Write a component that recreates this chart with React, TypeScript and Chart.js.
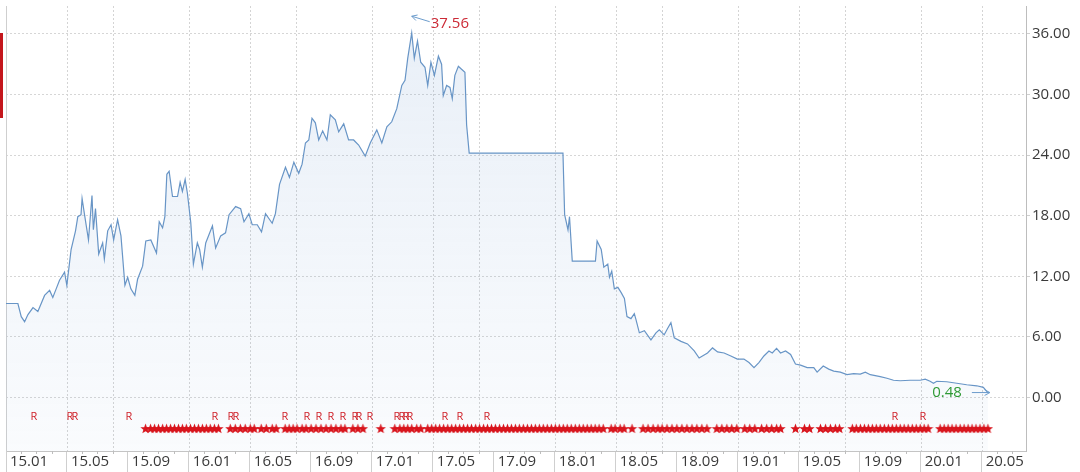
import React, { useEffect, useRef } from "react";
import { Chart, registerables } from "chart.js";

Chart.register(...registerables);

const FONT = "'Open Sans', 'Noto Sans', sans-serif";

// x = months since 2015.01, y = price
const pricePoints: [number, number][] = [
  [0, 9.3], [0.78, 9.3], [1.0, 8.0], [1.22, 7.5], [1.44, 8.2], [1.77, 8.9], [2.09, 8.5], [2.53, 10.1],
  [2.86, 10.6], [3.07, 9.9], [3.29, 10.75], [3.51, 11.6], [3.84, 12.4], [3.99, 11.1], [4.27, 14.65],
  [4.56, 16.5], [4.71, 17.9], [4.92, 18.1], [4.99, 19.7], [5.15, 18.1], [5.41, 15.6], [5.64, 20.0],
  [5.73, 16.6], [5.87, 18.7], [6.08, 14.2], [6.34, 15.3], [6.45, 13.7], [6.67, 16.5], [6.89, 17.1],
  [7.06, 15.6], [7.32, 17.6], [7.54, 16.0], [7.8, 11.1], [7.98, 11.9], [8.19, 10.75], [8.45, 10.1],
  [8.63, 11.7], [8.96, 13.0], [9.17, 15.5], [9.5, 15.6], [9.87, 14.3], [10.05, 17.4], [10.27, 16.8],
  [10.42, 17.9], [10.55, 22.1], [10.7, 22.4], [10.92, 19.9], [11.25, 19.9], [11.42, 21.3], [11.57, 20.4],
  [11.75, 21.6], [11.9, 20.2], [12.12, 17.3], [12.29, 13.2], [12.55, 15.3], [12.7, 14.65], [12.88, 12.9],
  [13.1, 15.3], [13.54, 17.0], [13.75, 14.8], [14.08, 16.0], [14.4, 16.3], [14.63, 18.1], [15.06, 18.9],
  [15.39, 18.7], [15.61, 17.4], [15.93, 18.2], [16.15, 17.1], [16.48, 17.1], [16.76, 16.4], [17.02, 18.2],
  [17.46, 17.25], [17.67, 18.2], [17.94, 21.1], [18.33, 22.8], [18.59, 21.8], [18.88, 23.3], [19.2, 22.2],
  [19.42, 23.1], [19.64, 25.2], [19.86, 25.5], [20.07, 27.65], [20.29, 27.2], [20.51, 25.5], [20.77, 26.4],
  [21.05, 25.5], [21.27, 28.0], [21.6, 27.5], [21.82, 26.3], [22.15, 27.1], [22.47, 25.5], [22.8, 25.5],
  [23.13, 25.0], [23.56, 23.9], [23.89, 25.2], [24.32, 26.5], [24.65, 25.2], [24.98, 26.8], [25.3, 27.3],
  [25.63, 28.6], [25.96, 30.9], [26.17, 31.4], [26.35, 33.6], [26.61, 36.1], [26.78, 33.6], [26.99, 35.3],
  [27.2, 33.2], [27.48, 32.7], [27.66, 30.9], [27.87, 33.2], [28.1, 31.9], [28.36, 33.8], [28.57, 33.0],
  [28.68, 29.9], [28.9, 30.9], [29.12, 30.7], [29.27, 29.6], [29.44, 31.9], [29.67, 32.8], [29.88, 32.5],
  [30.1, 32.2], [30.21, 27.0], [30.38, 24.2], [36.53, 24.2], [36.64, 18.1], [36.86, 16.6], [36.96, 17.9],
  [37.14, 13.5], [38.66, 13.5], [38.77, 15.5], [39.04, 14.65], [39.21, 12.9], [39.47, 13.2], [39.58, 11.9],
  [39.73, 12.5], [39.9, 10.75], [40.13, 10.9], [40.34, 10.4], [40.56, 9.8], [40.73, 8.0], [40.99, 7.8],
  [41.21, 8.3], [41.32, 7.7], [41.54, 6.4], [41.87, 6.6], [42.3, 5.7], [42.63, 6.4], [42.85, 6.7],
  [43.17, 6.2], [43.4, 6.85], [43.61, 7.4], [43.83, 5.9], [44.27, 5.55], [44.7, 5.3], [45.14, 4.6],
  [45.46, 3.9], [45.68, 4.1], [46.01, 4.4], [46.34, 4.9], [46.67, 4.5], [47.1, 4.4], [47.54, 4.1],
  [47.97, 3.8], [48.4, 3.8], [48.73, 3.45], [49.06, 2.95], [49.38, 3.45], [49.71, 4.1], [50.04, 4.6],
  [50.26, 4.4], [50.54, 4.85], [50.8, 4.4], [51.13, 4.6], [51.46, 4.25], [51.78, 3.3], [52.11, 3.2],
  [52.55, 2.95], [52.98, 2.95], [53.2, 2.5], [53.6, 3.1], [53.96, 2.8], [54.29, 2.6], [54.72, 2.5],
  [55.16, 2.25], [55.6, 2.35], [56.03, 2.3], [56.36, 2.5], [56.69, 2.25], [57.34, 2.05], [57.78, 1.9],
  [58.21, 1.7], [58.65, 1.65], [59.3, 1.7], [59.96, 1.7], [60.29, 1.8], [60.61, 1.6], [60.83, 1.4],
  [61.05, 1.6], [61.7, 1.55], [62.36, 1.4], [63.01, 1.25], [63.67, 1.15], [64.1, 1.0], [64.4, 0.48],
];

const xTickMonths = [0, 4, 8, 12, 16, 20, 24, 28, 32, 36, 40, 44, 48, 52, 56, 60, 64];
const xTickLabels = [
  "15.01", "15.05", "15.09", "16.01", "16.05", "16.09", "17.01", "17.05", "17.09",
  "18.01", "18.05", "18.09", "19.01", "19.05", "19.09", "20.01", "20.05",
];
const xGridMonths = [4, 7, 12, 16, 19, 24, 28, 31, 36, 40, 43, 48, 52, 55, 60, 64];
const yTickValues = [0, 6, 12, 18, 24, 30, 36];

const rMarkMonths = [
  1.83, 4.18, 4.51, 8.04, 13.73, 14.78, 15.1, 18.31, 19.75, 20.53, 21.32, 22.1, 22.88, 23.15,
  23.87, 25.63, 25.96, 26.22, 26.48, 28.77, 29.75, 31.58, 58.33, 60.15,
];

const starMarkMonths = [
  9.15, 9.48, 9.74, 10.0, 10.27, 10.53, 10.79, 11.05, 11.31, 11.57, 11.83, 12.1, 12.36, 12.62, 12.88,
  13.14, 13.4, 13.67, 13.93, 14.71, 15.04, 15.37, 15.69, 16.02, 16.28, 16.74, 17.07, 17.46, 17.72,
  18.31, 18.57, 18.83, 19.09, 19.42, 19.68, 20.01, 20.33, 20.66, 20.99, 21.32, 21.64, 21.97, 22.23,
  22.75, 23.08, 23.41, 24.58, 25.5, 25.83, 26.09, 26.35, 26.61, 26.94, 27.2, 27.66, 27.92, 28.18,
  28.44, 28.7, 28.97, 29.23, 29.49, 29.75, 30.01, 30.27, 30.53, 30.8, 31.06, 31.32, 31.58, 31.84,
  32.1, 32.37, 32.63, 32.89, 33.15, 33.41, 33.67, 33.93, 34.2, 34.46, 34.72, 34.98, 35.24, 35.5,
  35.77, 36.03, 36.29, 36.55, 36.81, 37.07, 37.34, 37.6, 37.86, 38.12, 38.38, 38.64, 38.9, 39.17,
  39.69, 39.95, 40.28, 40.54, 41.06, 41.78, 42.11, 42.44, 42.76, 43.03, 43.35, 43.68, 44.0, 44.33,
  44.66, 44.99, 45.31, 45.64, 45.97, 46.62, 46.95, 47.28, 47.6, 47.93, 48.45, 48.78, 49.11, 49.56,
  49.89, 50.22, 50.54, 50.8, 51.78, 52.37, 52.7, 53.42, 53.75, 54.07, 54.4, 54.66, 55.51, 55.77,
  56.04, 56.3, 56.56, 56.82, 57.08, 57.34, 57.61, 57.87, 58.13, 58.39, 58.65, 58.91, 59.17, 59.44,
  59.7, 59.96, 60.22, 60.48, 61.27, 61.53, 61.79, 62.05, 62.31, 62.58, 62.84, 63.1, 63.36, 63.62,
  63.88, 64.14, 64.4,
];

const highPrice = 37.56;
const highMonth = 26.61;
const lastPriceText = "0.48";

const R_ROW = -1.9;
const STAR_ROW = -3.08;

function makeStar(): HTMLCanvasElement {
  const c = document.createElement("canvas");
  c.width = 11;
  c.height = 11;
  const g = c.getContext("2d")!;
  g.fillStyle = "#d8141c";
  g.beginPath();
  for (let i = 0; i < 10; i++) {
    const r = i % 2 === 0 ? 5.4 : 2.3;
    const a = -Math.PI / 2 + (i * Math.PI) / 5;
    const px = 5.5 + r * Math.cos(a);
    const py = 6 + r * Math.sin(a);
    if (i === 0) g.moveTo(px, py);
    else g.lineTo(px, py);
  }
  g.closePath();
  g.fill();
  return c;
}

function drawArrow(ctx: CanvasRenderingContext2D, x1: number, y1: number, x2: number, y2: number) {
  const ang = Math.atan2(y2 - y1, x2 - x1);
  const hl = 6;
  ctx.beginPath();
  ctx.moveTo(x1, y1);
  ctx.lineTo(x2, y2);
  ctx.moveTo(x2 - hl * Math.cos(ang - 0.5), y2 - hl * Math.sin(ang - 0.5));
  ctx.lineTo(x2, y2);
  ctx.lineTo(x2 - hl * Math.cos(ang + 0.5), y2 - hl * Math.sin(ang + 0.5));
  ctx.stroke();
}

const decorPlugin = {
  id: "decor",
  beforeDatasetsDraw(chart: any) {
    const { ctx, chartArea: a, scales } = chart;
    const x = scales.x;
    ctx.save();
    ctx.lineWidth = 1;
    ctx.strokeStyle = "#d4d4d4";
    ctx.setLineDash([2, 2]);
    for (const m of xGridMonths) {
      const px = Math.round(x.getPixelForValue(m)) + 0.5;
      ctx.beginPath();
      ctx.moveTo(px, a.top);
      ctx.lineTo(px, a.bottom);
      ctx.stroke();
    }
    ctx.setLineDash([]);
    ctx.strokeStyle = "#cfcfcf";
    const lx = Math.round(a.left) + 0.5;
    ctx.beginPath();
    ctx.moveTo(lx, a.top);
    ctx.lineTo(lx, chart.height);
    ctx.stroke();
    ctx.restore();
  },
  afterDatasetsDraw(chart: any) {
    const { ctx } = chart;
    const meta = chart.getDatasetMeta(2);
    ctx.save();
    ctx.fillStyle = "#cf1f27";
    ctx.font = `11px ${FONT}`;
    ctx.textAlign = "center";
    ctx.textBaseline = "middle";
    for (const el of meta.data) {
      ctx.fillText("R", Math.round(el.x), Math.round(el.y));
    }
    ctx.restore();
  },
  afterDraw(chart: any) {
    const { ctx, chartArea: a, scales } = chart;
    const x = scales.x;
    const y = scales.y;
    ctx.save();
    // monthly minor ticks under the axis
    ctx.strokeStyle = "#bdbdbd";
    ctx.lineWidth = 1;
    for (let m = 1; m < 67; m++) {
      if (xTickMonths.includes(m)) continue;
      const px = Math.round(x.getPixelForValue(m)) + 0.5;
      ctx.beginPath();
      ctx.moveTo(px, a.bottom);
      ctx.lineTo(px, a.bottom + 3);
      ctx.stroke();
    }
    // high annotation
    const hx = x.getPixelForValue(highMonth);
    const hy = y.getPixelForValue(highPrice) - 2;
    ctx.strokeStyle = "#6c9ccc";
    ctx.lineWidth = 1;
    drawArrow(ctx, hx + 18, hy + 5.5, hx, hy);
    ctx.fillStyle = "#cc2a36";
    ctx.font = `15px ${FONT}`;
    ctx.textAlign = "left";
    ctx.textBaseline = "middle";
    ctx.fillText(highPrice.toFixed(2), hx + 19, hy + 8);
    // last annotation
    const last = pricePoints[pricePoints.length - 1];
    const tx = x.getPixelForValue(last[0]) + 2;
    const ty = y.getPixelForValue(last[1]);
    ctx.strokeStyle = "#6c9ccc";
    drawArrow(ctx, tx - 18, ty, tx, ty);
    ctx.fillStyle = "#2f9a35";
    ctx.textAlign = "right";
    ctx.fillText(lastPriceText, tx - 28, ty);
    ctx.restore();
  },
};

export default function App() {
  const ref = useRef<HTMLCanvasElement | null>(null);

  useEffect(() => {
    if (!ref.current) return;
    const starImg = makeStar();
    const chart = new Chart(ref.current, {
      type: "line",
      data: {
        datasets: [
          {
            data: pricePoints.map(([m, v]) => ({ x: m, y: v })),
            borderColor: "#6895c6",
            borderWidth: 1.2,
            pointRadius: 0,
            tension: 0,
            fill: "start",
            backgroundColor: (c: any) => {
              const area = c.chart.chartArea;
              if (!area) return "rgba(130,170,215,0.12)";
              const g = c.chart.ctx.createLinearGradient(0, area.top, 0, area.bottom);
              g.addColorStop(0, "rgba(120,160,210,0.17)");
              g.addColorStop(1, "rgba(120,160,210,0.04)");
              return g;
            },
            order: 3,
          },
          {
            data: starMarkMonths.map((m) => ({ x: m, y: STAR_ROW })),
            showLine: false,
            fill: false,
            pointStyle: starImg as any,
            pointRadius: 5,
            order: 1,
          },
          {
            data: rMarkMonths.map((m) => ({ x: m, y: R_ROW })),
            showLine: false,
            fill: false,
            pointRadius: 0,
            order: 2,
          },
        ],
      },
      options: {
        responsive: false,
        animation: false,
        devicePixelRatio: 1,
        layout: { padding: { left: 3, top: 0, right: 0, bottom: 0 } },
        plugins: { legend: { display: false }, tooltip: { enabled: false } },
        scales: {
          x: {
            type: "linear",
            min: 0,
            max: 66.9,
            position: "bottom",
            afterBuildTicks: (s: any) => {
              s.ticks = xTickMonths.map((v) => ({ value: v }));
            },
            afterFit: (s: any) => {
              s.height = 21;
              s.paddingLeft = 0;
              s.paddingRight = 0;
            },
            grid: {
              drawOnChartArea: false,
              drawTicks: true,
              tickLength: 21,
              tickColor: "#cfcfcf",
              color: "#cfcfcf",
            },
            border: { display: true, color: "#c4c4c4", width: 1 },
            ticks: {
              autoSkip: false,
              maxRotation: 0,
              minRotation: 0,
              align: "start",
              padding: -19,
              color: "#3a3a3a",
              font: { family: FONT, size: 15 },
              callback: (_v: any, i: number) => " " + xTickLabels[i],
            },
          },
          y: {
            type: "linear",
            position: "right",
            min: -5.31,
            max: 38.77,
            afterBuildTicks: (s: any) => {
              s.ticks = yTickValues.map((v) => ({ value: v }));
            },
            afterFit: (s: any) => {
              s.width = 54;
              s.paddingTop = 0;
              s.paddingBottom = 0;
            },
            grid: { color: "#d6d6d6", drawTicks: true, tickLength: 4, tickColor: "#cfcfcf" },
            border: { display: true, color: "#bdbdbd", dash: [2, 2] },
            ticks: {
              padding: 2,
              color: "#3a3a3a",
              font: { family: FONT, size: 15 },
              callback: (v: any) => Number(v).toFixed(2),
            },
          },
        },
      } as any,
      plugins: [decorPlugin],
    });
    return () => chart.destroy();
  }, []);

  return (
    <div style={{ position: "fixed", left: 0, top: 0, width: 1080, height: 472, background: "#fff" }}>
      <canvas ref={ref} width={1080} height={472} style={{ display: "block" }} />
      <div style={{ position: "absolute", left: 0, top: 33, width: 3, height: 85, background: "#c4161c" }} />
    </div>
  );
}
